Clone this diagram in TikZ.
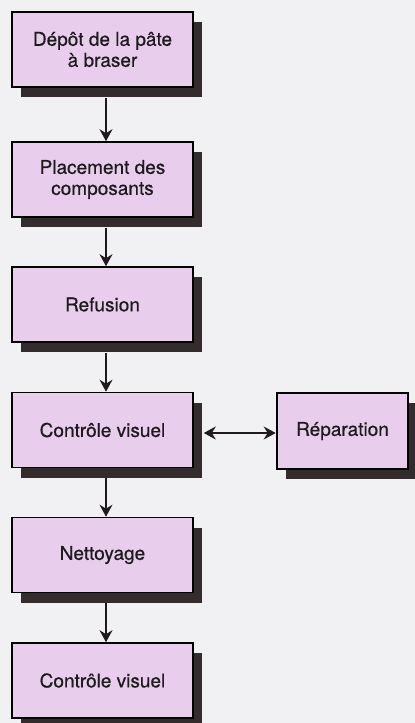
\documentclass[tikz,border=0pt]{standalone}
\usepackage{fontspec}
\setmainfont{TeX Gyre Heros}[FakeBold=0.6]
\usetikzlibrary{arrows.meta,shadows}
\definecolor{paper}{RGB}{241,240,242}
\definecolor{lilas}{RGB}{232,206,236}
\definecolor{ombre}{RGB}{52,44,44}
\definecolor{encre}{RGB}{30,26,30}
\tikzset{
  etape/.style={draw=black, line width=1.6pt, fill=lilas, text=encre,
    minimum width=181pt, minimum height=75pt, align=center,
    font=\fontsize{19}{21}\selectfont,
    drop shadow={shadow xshift=9pt, shadow yshift=-10pt, fill=ombre, opacity=1}},
  fleche/.style={draw=encre, line width=1.6pt, -{Stealth[length=12pt,width=13pt,inset=4pt]}}
}
\begin{document}
\begin{tikzpicture}[x=1pt,y=-1pt]
\fill[paper] (0,0) rectangle (415,723);
\useasboundingbox (0,0) rectangle (415,723);
% chaine principale
\node[etape] (depot) at (102.5,49.5) {Dépôt de la pâte\\à braser};
\node[etape] (placement) at (102.5,179.5) {Placement des\\composants};
\node[etape] (refusion) at (102.5,304.5) {Refusion};
\node[etape] (controle) at (102.5,430) {Contrôle visuel};
\node[etape] (nettoyage) at (102.5,555) {Nettoyage};
\node[etape] (final) at (102.5,680.5) {Contrôle visuel};
% reprise
\node[etape, minimum width=131pt, minimum height=76pt] (reparation) at (342.5,431) {Réparation};
\foreach \a/\b in {depot/placement,placement/refusion,refusion/controle,controle/nettoyage,nettoyage/final}
  \draw[fleche] ([xshift=3.5pt,yshift=-10pt]\a.south) -- ([xshift=3.5pt]\b.north);
\draw[fleche, {Stealth[length=12pt,width=13pt,inset=4pt]}-{Stealth[length=12pt,width=13pt,inset=4pt]}]
  ([xshift=10pt,yshift=-3pt]controle.east) -- ([xshift=-0.5pt,yshift=-2pt]reparation.west);
\end{tikzpicture}
\end{document}
